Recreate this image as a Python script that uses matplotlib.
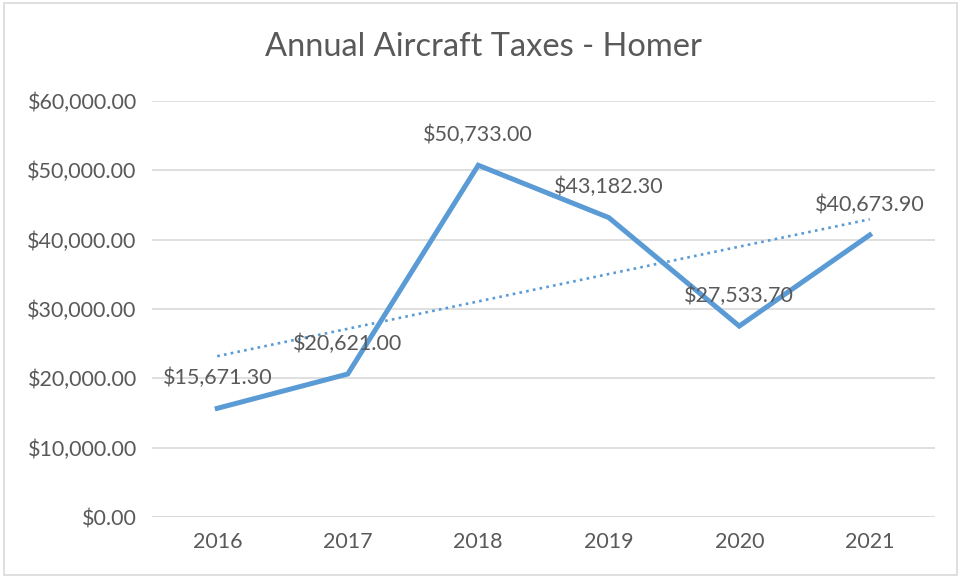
import matplotlib
matplotlib.use("Agg")
import matplotlib.pyplot as plt
from matplotlib.patches import Rectangle
import numpy as np

years = ["2016", "2017", "2018", "2019", "2020", "2021"]
taxes = [15671.30, 20621.00, 50733.00, 43182.30, 27533.70, 40673.90]
yticks = [0, 10000, 20000, 30000, 40000, 50000, 60000]

plt.rcParams['font.family'] = ['Lato', 'DejaVu Sans']
txt = '#595959'
blue = '#5b9bd5'

fig = plt.figure(figsize=(9.64, 5.77), dpi=100)
fig.patches.append(Rectangle((0.004, 0.004), 0.989, 0.99, transform=fig.transFigure,
                             fill=False, edgecolor='#d9d9d9', linewidth=1.2))
ax = fig.add_axes([152/964, 1-517/577, (935-152)/964, (517-101)/577])

x = np.arange(len(years))
ax.plot(x, taxes, color=blue, linewidth=3.6, solid_joinstyle='miter', zorder=3)
coef = np.polyfit(x, taxes, 1)
ax.plot(x, np.polyval(coef, x), color=blue, linewidth=1.9, linestyle=(0, (1, 1.6)), zorder=2)

for xi, v in zip(x, taxes):
    ax.annotate(f"${v:,.2f}", (xi, v), xytext=(0, 22), textcoords='offset points',
                ha='center', va='center', fontsize=15.5, color=txt, zorder=4)

ax.set_xlim(-0.5, len(years) - 0.5)
ax.set_ylim(0, 60000)
ax.set_yticks(yticks)
ax.set_yticklabels([f"${t:,.2f}" for t in yticks])
ax.set_xticks(x)
ax.set_xticklabels(years)
ax.tick_params(axis='both', length=0, labelsize=15.5, labelcolor=txt)
ax.tick_params(axis='y', pad=11)
ax.tick_params(axis='x', pad=11)
ax.grid(axis='y', color='#d9d9d9', linewidth=1.2)
ax.set_axisbelow(True)
for s in ax.spines.values():
    s.set_visible(False)
ax.axhline(0, color='#d9d9d9', linewidth=1.2, zorder=1)

fig.text(483/964, 1-47/577, "Annual Aircraft Taxes - Homer", ha='center', va='center',
         fontsize=23.5, color=txt)

fig.savefig("out.png", dpi=100)
